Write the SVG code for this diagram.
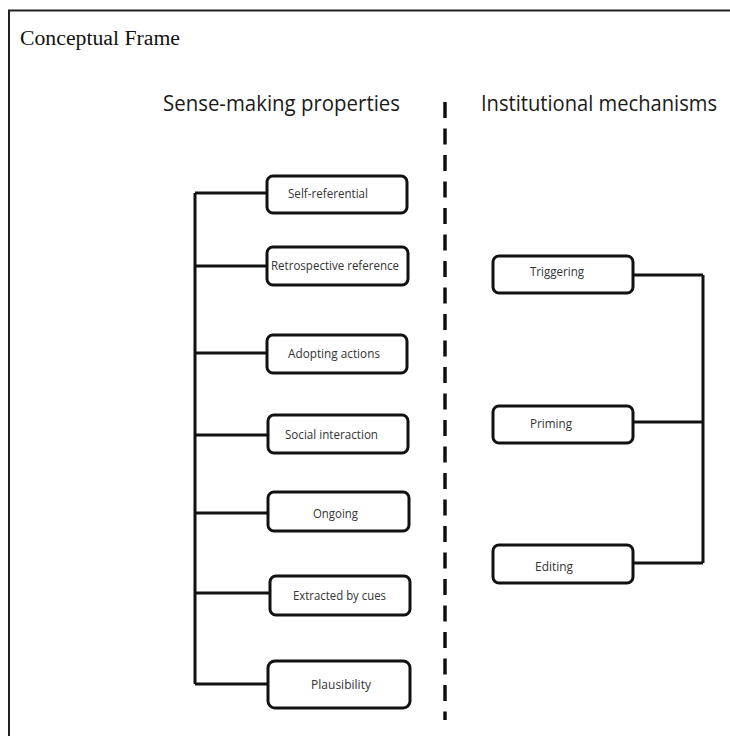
<svg xmlns="http://www.w3.org/2000/svg" width="730" height="736" viewBox="0 0 730 736">
<style>
.box{fill:#fff;stroke:#111;stroke-width:3}
.lbl{font-family:"Open Sans","Noto Sans",sans-serif;font-size:12.5px;fill:#333}
.hd{font-family:"Open Sans","Noto Sans",sans-serif;font-size:21px;fill:#1a1a1a}
.ln{fill:none;stroke:#111;stroke-width:3}
</style>
<rect width="730" height="736" fill="#fff"/>
<path d="M9 736 V10.5 H730" fill="none" stroke="#222" stroke-width="2"/>
<text x="20" y="45" font-family="Liberation Serif,serif" font-size="20" fill="#111" textLength="160" lengthAdjust="spacingAndGlyphs">Conceptual Frame</text>
<text class="hd" x="163" y="111" textLength="237" lengthAdjust="spacingAndGlyphs">Sense-making properties</text>
<text class="hd" x="481" y="111" textLength="236" lengthAdjust="spacingAndGlyphs">Institutional mechanisms</text>
<g id="connectors">
<line x1="445" y1="102" x2="445" y2="720" stroke="#111" stroke-width="3.5" stroke-dasharray="16 10.5"/>
<path class="ln" d="M195 193 V684"/>
<path class="ln" d="M195 193 H268 M195 266 H268 M195 353 H268 M195 435 H268 M195 513 H268 M195 593 H270 M195 684 H268"/>
<path class="ln" d="M703 275 V563 M633 275 H703 M633 422 H703 M633 563 H703"/>
</g>
<g id="n1"><rect class="box" x="267" y="176" width="140" height="37" rx="6"/><text class="lbl" x="288" y="198" textLength="80" lengthAdjust="spacingAndGlyphs">Self-referential</text></g>
<g id="n2"><rect class="box" x="267" y="247" width="141" height="38" rx="6"/><text class="lbl" x="271" y="270" textLength="128" lengthAdjust="spacingAndGlyphs">Retrospective reference</text></g>
<g id="n3"><rect class="box" x="267" y="335" width="140" height="38" rx="6"/><text class="lbl" x="288" y="358" textLength="92" lengthAdjust="spacingAndGlyphs">Adopting actions</text></g>
<g id="n4"><rect class="box" x="268" y="415" width="140" height="38" rx="6"/><text class="lbl" x="285" y="439" textLength="93" lengthAdjust="spacingAndGlyphs">Social interaction</text></g>
<g id="n5"><rect class="box" x="268" y="492" width="141" height="39" rx="6"/><text class="lbl" x="313" y="518" textLength="45" lengthAdjust="spacingAndGlyphs">Ongoing</text></g>
<g id="n6"><rect class="box" x="270" y="576" width="140" height="39" rx="6"/><text class="lbl" x="293" y="600" textLength="93" lengthAdjust="spacingAndGlyphs">Extracted by cues</text></g>
<g id="n7"><rect class="box" x="268" y="661" width="142" height="47" rx="7"/><text class="lbl" x="311" y="689" textLength="60" lengthAdjust="spacingAndGlyphs">Plausibility</text></g>
<g id="n8"><rect class="box" x="493" y="256" width="140" height="37" rx="6"/><text class="lbl" x="530" y="276" textLength="54" lengthAdjust="spacingAndGlyphs">Triggering</text></g>
<g id="n9"><rect class="box" x="493" y="406" width="140" height="37" rx="6"/><text class="lbl" x="530" y="428" textLength="42" lengthAdjust="spacingAndGlyphs">Priming</text></g>
<g id="n10"><rect class="box" x="493" y="545" width="140" height="38" rx="6"/><text class="lbl" x="535" y="571" textLength="38" lengthAdjust="spacingAndGlyphs">Editing</text></g>
</svg>
